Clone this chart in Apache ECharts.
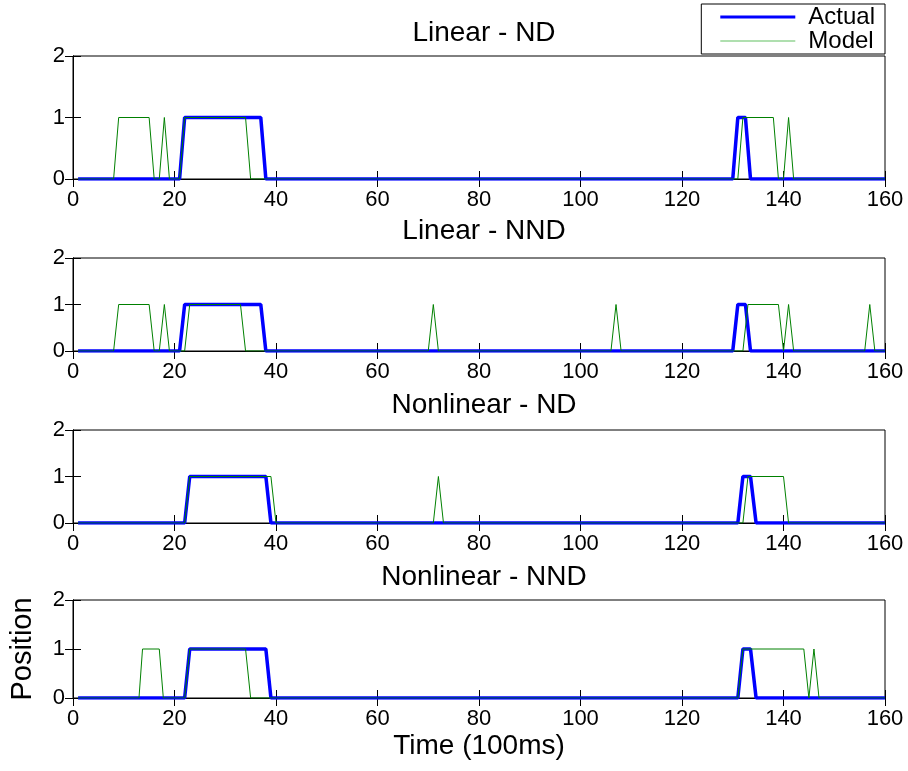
<!DOCTYPE html>
<html>
<head>
<meta charset="utf-8">
<script src="https://cdn.jsdelivr.net/npm/echarts@6/dist/echarts.min.js"></script>
<style>
  html, body { margin: 0; padding: 0; background: #fff; }
  #chart { width: 908px; height: 771px; }
</style>
</head>
<body>
<div id="chart"></div>
<script>
// panel titles
const titles = ['Linear - ND', 'Linear - NND', 'Nonlinear - ND', 'Nonlinear - NND']

// [time, position] breakpoints
const actualLinND = [[1, 0], [21, 0], [22, 1], [37, 1], [38, 0], [130, 0], [131, 1], [132.5, 1], [133.5, 0], [160, 0]]
const modelLinND = [[1, 0], [8, 0], [9, 1], [15, 1], [16, 0], [17, 0], [18, 1], [19, 0], [21, 0], [22, 1], [34, 1], [35, 0],
  [131, 0], [132, 1], [138, 1], [139, 0], [140, 0], [141, 1], [142, 0], [160, 0]]

const actualLinNND = [[1, 0], [21, 0], [22, 1], [37, 1], [38, 0], [130, 0], [131, 1], [132.5, 1], [133.5, 0], [160, 0]]
const modelLinNND = [[1, 0], [8, 0], [9, 1], [15, 1], [16, 0], [17, 0], [18, 1], [19, 0], [22, 0], [23, 1], [33, 1], [34, 0],
  [70, 0], [71, 1], [72, 0], [106, 0], [107, 1], [108, 0], [132, 0], [133, 1], [139, 1], [140, 0], [141, 1], [142, 0],
  [156, 0], [157, 1], [158, 0], [160, 0]]

const actualNlND = [[1, 0], [22, 0], [23, 1], [38, 1], [39, 0], [131, 0], [132, 1], [133.5, 1], [134.6, 0], [160, 0]]
const modelNlND = [[1, 0], [22, 0], [23, 1], [39, 1], [40, 0], [71, 0], [72, 1], [73, 0], [132, 0], [133, 1], [140, 1], [141, 0], [160, 0]]

const actualNlNND = [[1, 0], [22, 0], [23, 1], [38, 1], [39, 0], [131, 0], [132, 1], [133.5, 1], [134.6, 0], [160, 0]]
const modelNlNND = [[1, 0], [13, 0], [13.7, 1], [17, 1], [17.8, 0], [22, 0], [23, 1], [34, 1], [35, 0],
  [131, 0], [132, 1], [144, 1], [145, 0], [146, 1], [147, 0], [160, 0]]

const actualSets = [actualLinND, actualLinNND, actualNlND, actualNlNND]
const modelSets = [modelLinND, modelLinNND, modelNlND, modelNlNND]

const panels = [
  { top: 56, height: 123, titleTop: 14 },
  { top: 258, height: 93, titleTop: 212 },
  { top: 430, height: 93, titleTop: 386 },
  { top: 600, height: 98, titleTop: 558 }
]

const font = 'Liberation Sans, Arial, sans-serif'
const tickStyle = { show: true, inside: true, length: 8, lineStyle: { color: '#000' } }
const lineStyle = { show: true, lineStyle: { color: '#000', width: 1 } }

const grid = []
const xAxis = []
const yAxis = []
const series = []
const title = []

panels.forEach((p, i) => {
  grid.push({ left: 73, right: 23, top: p.top, height: p.height, show: true, borderColor: '#000', borderWidth: 1, backgroundColor: '#fff' })
  title.push({
    text: titles[i], left: 479, top: p.titleTop, textAlign: 'center',
    textStyle: { fontFamily: font, fontSize: 28, fontWeight: 'normal', color: '#000' }
  })
  // bottom / left axes with labels
  xAxis.push({
    type: 'value', gridIndex: i, min: 0, max: 160, interval: 20,
    axisLine: lineStyle, axisTick: tickStyle, splitLine: { show: false },
    axisLabel: { color: '#000', fontFamily: font, fontSize: 22, margin: 10 },
    name: i === 3 ? 'Time (100ms)' : '', nameLocation: 'middle', nameGap: 34,
    nameTextStyle: { color: '#000', fontFamily: font, fontSize: 28 }
  })
  yAxis.push({
    type: 'value', gridIndex: i, min: 0, max: 2, interval: 1,
    axisLine: lineStyle, axisTick: tickStyle, splitLine: { show: false },
    axisLabel: { color: '#000', fontFamily: font, fontSize: 22, margin: 8 },
    name: i === 3 ? 'Position' : '', nameLocation: 'middle', nameGap: 36, nameRotate: 90,
    nameTextStyle: { color: '#000', fontFamily: font, fontSize: 29 }
  })
  // mirrored ticks on top / right
  xAxis.push({
    type: 'value', gridIndex: i, min: 0, max: 160, interval: 20, position: 'top',
    axisLine: lineStyle, axisTick: tickStyle, axisLabel: { show: false }, splitLine: { show: false }
  })
  yAxis.push({
    type: 'value', gridIndex: i, min: 0, max: 2, interval: 1, position: 'right',
    axisLine: lineStyle, axisTick: tickStyle, axisLabel: { show: false }, splitLine: { show: false }
  })
  series.push({
    name: 'Actual', type: 'line', xAxisIndex: i * 2, yAxisIndex: i * 2,
    data: actualSets[i], showSymbol: false, animation: false,
    lineStyle: { color: '#0000ff', width: 3.5 }, itemStyle: { color: '#0000ff' }
  })
  series.push({
    name: 'Model', type: 'line', xAxisIndex: i * 2, yAxisIndex: i * 2,
    data: modelSets[i], showSymbol: false, animation: false,
    lineStyle: { color: '#008000', width: 1 }, itemStyle: { color: '#008000' }
  })
})

const chart = echarts.init(document.getElementById('chart'))
chart.setOption({
  backgroundColor: '#fff',
  title,
  grid,
  xAxis,
  yAxis,
  series,
  legend: {
    orient: 'vertical', right: 23, top: 4,
    backgroundColor: '#fff', borderColor: '#000', borderWidth: 1,
    padding: [1, 10, 1, 19], itemGap: 0, itemWidth: 75, itemHeight: 12,
    textStyle: { color: '#000', fontFamily: font, fontSize: 24, lineHeight: 22, padding: [0, 0, 0, 8] },
    data: [
      { name: 'Actual', icon: 'path://M0,0h100v4h-100z', itemStyle: { color: '#0000ff' } },
      { name: 'Model', icon: 'path://M0,0h100v1.4h-100z', itemStyle: { color: '#60c060' } }
    ]
  }
})
</script>
</body>
</html>
